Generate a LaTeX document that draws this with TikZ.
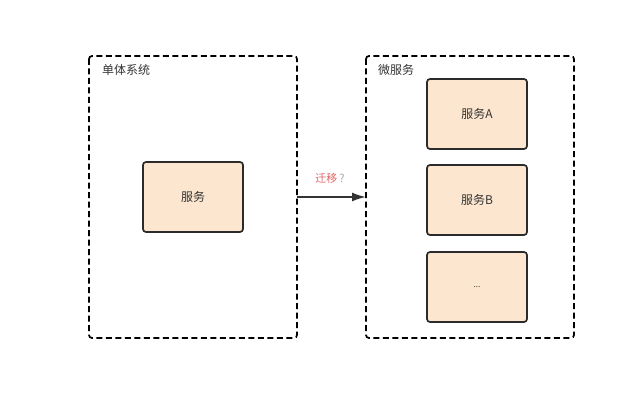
\documentclass[tikz,border=0pt]{standalone}
\usepackage{fontspec}
\newfontfamily\cjk{Noto Sans CJK SC}
\usetikzlibrary{arrows.meta}
\definecolor{boxfill}{HTML}{FCE6CF}
\definecolor{boxline}{HTML}{2B2B2B}
\definecolor{lblred}{HTML}{E06666}
\definecolor{txt}{HTML}{333333}
\tikzset{
  x=1pt, y=-1pt,
  groupbox/.style={draw=black, line width=1.7pt, dash pattern=on 6pt off 3.5pt, rounded corners=3pt},
  svcbox/.style={draw=boxline, fill=boxfill, line width=1.7pt, rounded corners=3pt, minimum width=100pt, minimum height=70pt, text=txt, font=\cjk\fontsize{12}{14}\selectfont, inner sep=0pt},
  grouptitle/.style={anchor=west, text=txt, font=\cjk\fontsize{12}{14}\selectfont, inner sep=0pt},
}
\begin{document}
\begin{tikzpicture}
\useasboundingbox (0,0) rectangle (636,401);
\draw[groupbox] (89,56) rectangle (297,338);
\draw[groupbox] (366,56) rectangle (574,338);
\coordinate (lr) at (297,197);
\coordinate (rl) at (366,197);
\node[grouptitle] (t1) at (102,70) {单体系统};
\node[grouptitle] (t2) at (378,70) {微服务};
\node[svcbox] (svc) at (193,197) {服务};
\node[svcbox] (sa) at (477,114) {服务A};
\node[svcbox] (sb) at (477,200) {服务B};
\node[svcbox] (sc) at (477,287) {\fontsize{8}{10}\selectfont ...};
\draw[line width=1.7pt, draw=txt, -{Latex[length=14pt,width=9pt]}] (lr) -- (rl);
\node[font=\cjk\fontsize{11}{13}\selectfont, inner sep=0pt] (lbl) at (330,178) {\textcolor{lblred}{迁移}\,\textcolor{gray!70}{?}};
\end{tikzpicture}
\end{document}
